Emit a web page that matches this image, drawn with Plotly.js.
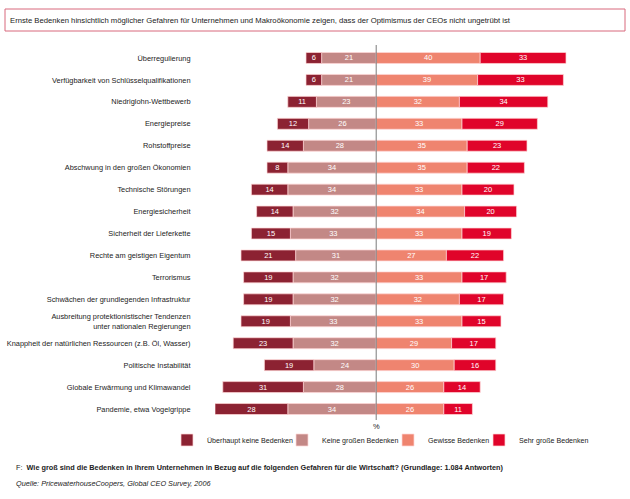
<!DOCTYPE html>
<html><head><meta charset="utf-8">
<script src="https://cdn.plot.ly/plotly-3.0.1.min.js"></script>
<style>html,body{margin:0;padding:0;background:#fff}#chart{width:630px;height:499px}</style>
</head><body><div id="chart"></div>
<script>
const categories = [
  "Überregulierung",
  "Verfügbarkeit von Schlüsselqualifikationen",
  "Niedriglohn-Wettbewerb",
  "Energiepreise",
  "Rohstoffpreise",
  "Abschwung in den großen Ökonomien",
  "Technische Störungen",
  "Energiesicherheit",
  "Sicherheit der Lieferkette",
  "Rechte am geistigen Eigentum",
  "Terrorismus",
  "Schwächen der grundlegenden Infrastruktur",
  "Ausbreitung protektionistischer Tendenzen<br>unter nationalen Regierungen",
  "Knappheit der natürlichen Ressourcen (z.B. Öl, Wasser)",
  "Politische Instabilität",
  "Globale Erwärmung und Klimawandel",
  "Pandemie, etwa Vogelgrippe"
];
const ueberhauptKeine = [6, 6, 11, 12, 14, 8, 14, 14, 15, 21, 19, 19, 19, 23, 19, 31, 28];
const keineGrossen    = [21, 21, 23, 26, 28, 34, 34, 32, 33, 31, 32, 32, 33, 32, 24, 28, 34];
const gewisse         = [40, 39, 32, 33, 35, 35, 33, 34, 33, 27, 33, 32, 33, 29, 30, 26, 26];
const sehrGrosse      = [33, 33, 34, 29, 23, 22, 20, 20, 19, 22, 17, 17, 15, 17, 16, 14, 11];
const seriesNames = ["Überhaupt keine Bedenken", "Keine großen Bedenken", "Gewisse Bedenken", "Sehr große Bedenken"];

const colors = ["#8c2232", "#c38886", "#ef846f", "#e0042a"];
const legendWidths = [70, 61, 46, 74];
const FONT = "Liberation Sans, Arial, sans-serif";

function mk(vals, sign, idx, rank) {
  return {
    type: "bar", orientation: "h",
    y: categories, x: vals.map(v => sign * v),
    name: seriesNames[idx], legendrank: rank, legendwidth: legendWidths[idx],
    text: vals.map(String), textposition: "inside", insidetextanchor: "middle",
    constraintext: "none", textangle: 0,
    textfont: {family: FONT, size: 7.5, color: "#ffffff"},
    marker: {color: colors[idx], line: {color: "rgba(255,215,215,0.9)", width: 0.8}},
    width: 0.5, hoverinfo: "skip"
  };
}

const data = [
  mk(keineGrossen, -1, 1, 2),
  mk(ueberhauptKeine, -1, 0, 1),
  mk(gewisse, 1, 2, 3),
  mk(sehrGrosse, 1, 3, 4)
];

const px = (y) => 1 - y / 499;
const layout = {
  width: 630, height: 499,
  margin: {l: 0, r: 0, t: 0, b: 0},
  paper_bgcolor: "#fff", plot_bgcolor: "#fff",
  barmode: "relative", bargap: 0.5,
  font: {family: FONT, color: "#222", size: 7.5},
  title: {text: "Ernste Bedenken hinsichtlich möglicher Gefahren für Unternehmen und Makroökonomie zeigen, dass der Optimismus der CEOs nicht ungetrübt ist",
          x: 10/630, xanchor: "left", xref: "paper", y: px(20), yanchor: "middle", yref: "paper",
          font: {family: FONT, size: 7.7, color: "#222"}},
  xaxis: {domain: [215/630, 579/630], range: [-62, 78], showticklabels: false, showgrid: false, zeroline: false, showline: false, fixedrange: true},
  yaxis: {domain: [px(420), px(47)], range: [16.5, -0.5], showgrid: false, zeroline: false, showline: false,
          ticks: "outside", ticklen: 22, tickcolor: "rgba(0,0,0,0)",
          tickfont: {family: FONT, size: 7.4, color: "#222"}, automargin: false},
  showlegend: true,
  legend: {orientation: "h", x: 167/630, xanchor: "left", y: px(440), yanchor: "middle",
           font: {family: FONT, size: 7.1, color: "#222"}, traceorder: "normal", itemclick: false},
  shapes: [
    {type: "rect", xref: "paper", yref: "paper", x0: 5/630, x1: 625/630, y0: px(31), y1: px(9),
     line: {color: "#d8697c", width: 1}},
    {type: "line", xref: "x", yref: "paper", x0: 0, x1: 0, y0: px(420), y1: px(45),
     line: {color: "#7a7a7a", width: 1}}
  ],
  annotations: [
    {text: "%", xref: "x", yref: "paper", x: 0, y: px(426), yanchor: "middle", showarrow: false, font: {size: 7.5, color: "#222"}},
    {text: "F:  <b>Wie groß sind die Bedenken in Ihrem Unternehmen in Bezug auf die folgenden Gefahren für die Wirtschaft? (Grundlage: 1.084 Antworten)</b>",
     xref: "paper", yref: "paper", x: 14/630, y: px(467), xanchor: "left", yanchor: "middle", showarrow: false,
     font: {size: 7.3, color: "#222"}},
    {text: "<i>Quelle: PricewaterhouseCoopers, Global CEO Survey, 2006</i>",
     xref: "paper", yref: "paper", x: 14/630, y: px(483), xanchor: "left", yanchor: "middle", showarrow: false,
     font: {size: 7.3, color: "#222"}}
  ]
};

Plotly.newPlot("chart", data, layout, {displayModeBar: false, staticPlot: true});
</script>
</body></html>
